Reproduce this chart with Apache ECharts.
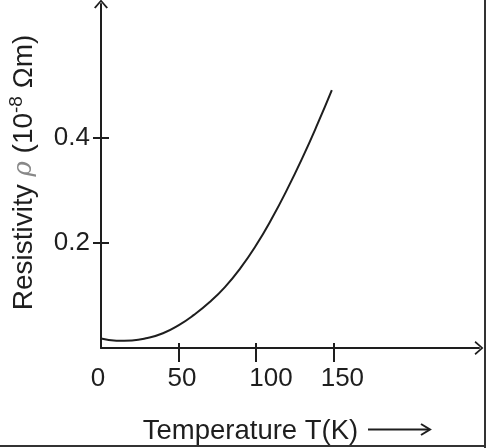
<!DOCTYPE html>
<html>
<head>
<meta charset="utf-8">
<script src="https://cdn.jsdelivr.net/npm/echarts@6/dist/echarts.min.js"></script>
<style>html,body{margin:0;padding:0;background:#fff}#box{width:486px;height:448px}</style>
</head>
<body>
<div id="box"></div>
<script>
// values (T in K, rho in 1e-8 ohm m)
var temps = [0, 10, 20, 30, 40, 50, 60, 70, 80, 90, 100, 110, 120, 130, 140, 149];
var rho = [0.018, 0.014, 0.0145, 0.019, 0.028, 0.043, 0.063, 0.087, 0.116, 0.152, 0.195, 0.245, 0.301, 0.362, 0.428, 0.491];
var xTickValues = [50, 100, 150];
var xLabelValues = [0, 50, 100, 150];
var yTickValues = [0.2, 0.4];

var mychart = echarts.init(document.getElementById('box'));
var font = 'Liberation Sans, Arial, sans-serif';
var ink = '#1e1e1e';
var chevron = 'path://M0 9 L8 0 L16 9 L14.2 10.2 L8 2.8 L1.8 10.2 Z';
var points = temps.map(function (t, i) { return [t, rho[i]]; });

// labels in the picture sit a little off their ticks
var labelRich = {
    v0: {padding: [0, 6, 0, 0]},
    v50: {padding: [0, 0, 0, 7]},
    v100: {padding: [0, 0, 0, 30]},
    v150: {padding: [0, 0, 0, 18]}
};

var option = {
    animation: false,
    backgroundColor: '#fff',
    textStyle: {fontFamily: font, color: ink},
    grid: {left: 101, right: 7, top: 4, bottom: 100, outerBoundsMode: 'none'},
    xAxis: [{
        type: 'value', position: 'bottom', min: 0, max: 244,
        axisLine: {show: true, symbol: ['none', chevron], symbolSize: [14, 9],
            lineStyle: {color: ink, width: 2}},
        axisTick: {show: true, inside: false, length: 14, customValues: xTickValues,
            lineStyle: {color: ink, width: 2}},
        axisLabel: {show: true, margin: 18, fontSize: 26, color: ink, fontFamily: font,
            customValues: xLabelValues,
            formatter: function (v) { return '{v' + v + '|' + v + '}'; },
            rich: labelRich},
        splitLine: {show: false},
        name: '{t|Temperature T(K)}',
        nameLocation: 'middle', nameGap: 69,
        nameTextStyle: {rich: {
            t: {fontSize: 27.5, color: ink, fontFamily: font, padding: [0, 79, 0, 0]}
        }}
    }, {
        type: 'value', position: 'bottom', min: 0, max: 244,
        axisLine: {show: false},
        axisTick: {show: true, inside: true, length: 5, customValues: xTickValues,
            lineStyle: {color: ink, width: 2}},
        axisLabel: {show: false},
        splitLine: {show: false}
    }],
    yAxis: [{
        type: 'value', position: 'left', min: 0, max: 0.655,
        axisLine: {show: true, symbol: ['none', chevron], symbolSize: [14, 9],
            lineStyle: {color: ink, width: 2}},
        axisTick: {show: true, inside: false, length: 8, customValues: yTickValues,
            lineStyle: {color: ink, width: 2}},
        axisLabel: {show: true, margin: 11, fontSize: 26, color: ink, fontFamily: font,
            customValues: yTickValues},
        splitLine: {show: false},
        name: '{t0|Resistivity }{p|ρ}{t| (10}{s|-8}{t| Ωm)}',
        nameLocation: 'middle', nameRotate: 90, nameGap: 60,
        nameTextStyle: {rich: {
            t0: {fontSize: 28, lineHeight: 34, color: ink, fontFamily: font, padding: [0, 0, 0, 7]},
            t: {fontSize: 28, lineHeight: 34, color: ink, fontFamily: font},
            p: {fontSize: 26, lineHeight: 34, color: '#888', fontStyle: 'italic', fontFamily: 'DejaVu Serif'},
            s: {fontSize: 19, lineHeight: 19, color: ink, fontFamily: font, verticalAlign: 'top'}
        }}
    }, {
        type: 'value', position: 'left', min: 0, max: 0.655,
        axisLine: {show: false},
        axisTick: {show: true, inside: true, length: 8, customValues: yTickValues,
            lineStyle: {color: ink, width: 2}},
        axisLabel: {show: false},
        splitLine: {show: false}
    }],
    graphic: [
        {type: 'rect', shape: {x: 484, y: 0, width: 2, height: 448}, style: {fill: '#333'}},
        {type: 'rect', shape: {x: 0, y: 445, width: 486, height: 2}, style: {fill: '#333'}},
        // arrow after the x axis title
        {type: 'line', shape: {x1: 368, y1: 429.5, x2: 429, y2: 429.5}, style: {stroke: ink, lineWidth: 2}},
        {type: 'polyline', shape: {points: [[421, 424], [430, 429.5], [421, 435]]}, style: {stroke: ink, lineWidth: 2, fill: null}}
    ],
    series: [{
        type: 'line',
        data: points,
        smooth: 0.5,
        showSymbol: false,
        lineStyle: {color: ink, width: 2}
    }]
};
mychart.setOption(option);
</script>
</body>
</html>
